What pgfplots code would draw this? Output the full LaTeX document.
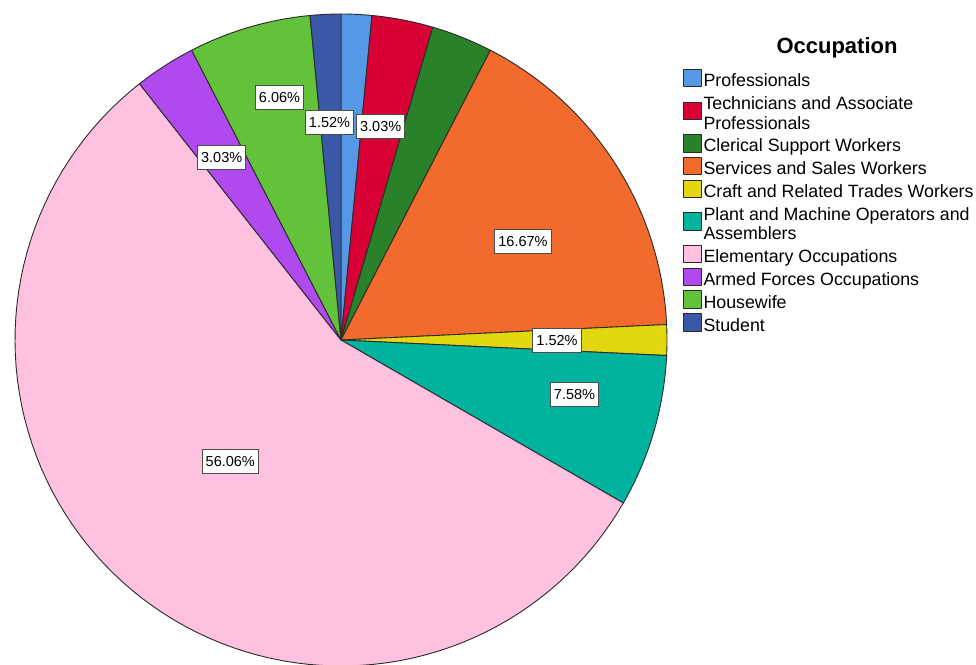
\documentclass[border=0pt]{standalone}
\usepackage{pgfplots}
\pgfplotsset{compat=1.18}
\usepackage{fontspec}
\setmainfont{Liberation Sans}

\definecolor{cProf}{HTML}{5599E6}
\definecolor{cTech}{HTML}{D80035}
\definecolor{cCler}{HTML}{298229}
\definecolor{cServ}{HTML}{F26A2C}
\definecolor{cCraft}{HTML}{E3D70F}
\definecolor{cPlant}{HTML}{00B39F}
\definecolor{cElem}{HTML}{FFC1E0}
\definecolor{cArmed}{HTML}{B049EE}
\definecolor{cHouse}{HTML}{62C23A}
\definecolor{cStud}{HTML}{3A58A8}
\definecolor{edge}{HTML}{2A2A2A}

\newcommand\legfont{\fontsize{17.8}{19.5}\selectfont}
\newcommand\titlefont{\fontsize{22}{24}\selectfont\bfseries}
\newcommand\lblfont{\fontsize{14.5}{16}\selectfont}
\newcommand\lentry[1]{\begin{tabular}{@{}l@{}}#1\end{tabular}}

\tikzset{slice/.style={draw=edge, line width=0.9pt, line join=round},
  lbl/.style={draw=black!70, fill=white, line width=1pt, font=\lblfont,
    inner xsep=3.5pt, inner ysep=0pt, minimum height=24pt}}

% counts out of N = 66
\newcommand\cum{0}
\newcommand\slice[2]{%
  \pgfmathsetmacro\angA{90-\cum*(360/66)}%
  \pgfmathsetmacro\angB{90-(\cum+#1)*(360/66)}%
  \edef\doslice{\noexpand\addplot[slice, fill=#2, domain=\angB:\angA, samples=90, variable=\noexpand\t]
     ({341+326*cos(\noexpand\t)},{324+326*sin(\noexpand\t)}) -- (axis cs:341,324) -- cycle;}%
  \doslice
  \pgfmathsetmacro\newcum{\cum+#1}%
  \global\let\cum\newcum
}

\begin{document}
\begin{tikzpicture}
\begin{axis}[hide axis, scale only axis, width=976pt, height=664pt,
  xmin=0, xmax=976, ymin=0, ymax=664, clip=true,
  legend cell align=left,
  legend image code/.code={%
    \draw[#1, draw=edge, line width=0.8pt, overlay] (0pt,-3.9pt) rectangle (17.5pt,13.5pt);
    \path[draw=none, fill=none] (0pt,0pt) -- (17.5pt,0pt);},
  legend style={draw=none, fill=none, at={(axis cs:683.3,590.95)}, anchor=north west,
    inner sep=0pt, row sep=3.3pt, column sep=2.5pt,
    nodes={inner sep=0pt, text depth=, font=\legfont}}]
\slice{1}{cProf}
\slice{2}{cTech}
\slice{2}{cCler}
\slice{11}{cServ}
\slice{1}{cCraft}
\slice{5}{cPlant}
\slice{37}{cElem}
\slice{2}{cArmed}
\slice{4}{cHouse}
\slice{1}{cStud}
\legend{\lentry{Professionals},
  \lentry{Technicians and Associate\\Professionals},
  \lentry{Clerical Support Workers},
  \lentry{Services and Sales Workers},
  \lentry{Craft and Related Trades Workers},
  \lentry{Plant and Machine Operators and\\Assemblers},
  \lentry{Elementary Occupations},
  \lentry{Armed Forces Occupations},
  \lentry{Housewife},
  \lentry{Student}}
\node[lbl] at (axis cs:279.5,566) {6.06\%};
\node[lbl] at (axis cs:329.5,541) {1.52\%};
\node[lbl] at (axis cs:380.7,537.3) {3.03\%};
\node[lbl] at (axis cs:221.7,506) {3.03\%};
\node[lbl] at (axis cs:523,422.3) {16.67\%};
\node[lbl] at (axis cs:557,323.7) {1.52\%};
\node[lbl] at (axis cs:574.5,269) {7.58\%};
\node[lbl] at (axis cs:230.3,202.3) {56.06\%};
\node[font=\titlefont, anchor=base] at (axis cs:837,610.7) {Occupation};
\coordinate (bl) at (axis cs:0,0);
\coordinate (tr) at (axis cs:976,664);
\end{axis}
\pgfresetboundingbox
\path (bl) rectangle (tr);
\end{tikzpicture}
\end{document}
